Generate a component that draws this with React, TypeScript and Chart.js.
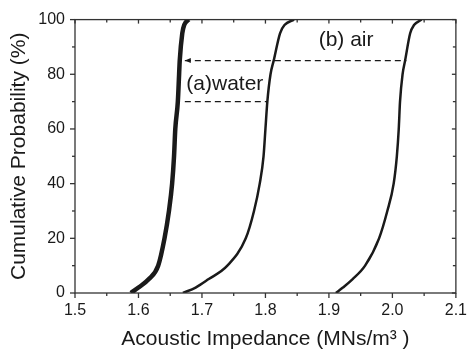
import React, { useEffect, useRef } from "react";
import { Chart, registerables } from "chart.js";
Chart.register(...registerables);

// Cumulative probability levels (%)
const probLevels = [0, 2, 5, 10, 20, 30, 40, 50, 60, 70, 80, 85, 95, 98, 100];
// Acoustic impedance values for each curve (MNs/m^3)
const curveWater = [1.588, 1.600, 1.616, 1.631, 1.641, 1.648, 1.653, 1.656, 1.658, 1.662, 1.664, 1.665, 1.669, 1.672, 1.679];
const curveMiddle = [1.670, 1.690, 1.710, 1.740, 1.769, 1.782, 1.791, 1.797, 1.800, 1.803, 1.808, 1.813, 1.823, 1.830, 1.845];
const curveAir = [1.911, 1.922, 1.937, 1.957, 1.979, 1.992, 2.002, 2.007, 2.010, 2.012, 2.016, 2.020, 2.028, 2.034, 2.046];

// Dashed guide lines
const guideAirX = [1.673, 2.022];
const guideAirY = [85, 85];
const guideWaterX = [1.673, 1.804];
const guideWaterY = [70, 70];

// Axis ticks
const xTicks = [1.5, 1.6, 1.7, 1.8, 1.9, 2.0, 2.1];
const xMinor = [1.55, 1.65, 1.75, 1.85, 1.95, 2.05];
const yTicks = [0, 20, 40, 60, 80, 100];
const yMinor = [10, 30, 50, 70, 90];

// Labels
const labelAir = { text: "(b) air", x: 1.927, y: 92.3 };
const labelWater = { text: "(a)water", x: 1.736, y: 76.3 };

const FONT = "'Liberation Sans', Arial, sans-serif";
const INK = "#1a1a1a";

function pts(xs: number[], ys: number[]) {
  return xs.map((x, i) => ({ x, y: ys[i] }));
}

const framePlugin = {
  id: "frame",
  afterDraw(chart: any) {
    const ctx = chart.ctx;
    const xs = chart.scales.x;
    const ys = chart.scales.y;
    const { left, right, top, bottom } = chart.chartArea;
    ctx.save();
    ctx.strokeStyle = "#333";
    ctx.lineWidth = 1.3;
    ctx.strokeRect(left, top, right - left, bottom - top);
    const tick = (x1: number, y1: number, x2: number, y2: number) => {
      ctx.beginPath();
      ctx.moveTo(x1, y1);
      ctx.lineTo(x2, y2);
      ctx.stroke();
    };
    xTicks.forEach((v) => {
      const p = xs.getPixelForValue(v);
      tick(p, bottom, p, bottom + 5);
      tick(p, top, p, top + 4);
    });
    xMinor.forEach((v) => {
      const p = xs.getPixelForValue(v);
      tick(p, bottom, p, bottom + 3);
      tick(p, top, p, top + 3);
    });
    yTicks.forEach((v) => {
      const p = ys.getPixelForValue(v);
      tick(left - 5, p, left, p);
      tick(right - 4, p, right, p);
    });
    yMinor.forEach((v) => {
      const p = ys.getPixelForValue(v);
      tick(left - 3, p, left, p);
      tick(right - 3, p, right, p);
    });
    // arrowhead on the 85% guide line (pointing left)
    const ax = xs.getPixelForValue(guideAirX[0]);
    const ay = ys.getPixelForValue(guideAirY[0]);
    ctx.fillStyle = INK;
    ctx.beginPath();
    ctx.moveTo(ax, ay);
    ctx.lineTo(ax + 6, ay - 2.5);
    ctx.lineTo(ax + 6, ay + 2.5);
    ctx.closePath();
    ctx.fill();
    // text labels
    ctx.font = `21px ${FONT}`;
    ctx.fillStyle = INK;
    ctx.textAlign = "center";
    ctx.textBaseline = "middle";
    [labelAir, labelWater].forEach((l) => {
      ctx.fillText(l.text, xs.getPixelForValue(l.x), ys.getPixelForValue(l.y));
    });
    ctx.restore();
  },
};

export default function App() {
  const ref = useRef<HTMLCanvasElement>(null);
  useEffect(() => {
    const canvas = ref.current!;
    const curve = (xs: number[], w: number) => ({
      data: pts(xs, probLevels),
      showLine: true,
      borderColor: INK,
      borderWidth: w,
      pointRadius: 0,
      cubicInterpolationMode: "monotone" as const,
    });
    const guide = (xs: number[], ys: number[]) => ({
      data: pts(xs, ys),
      showLine: true,
      borderColor: INK,
      borderWidth: 1.2,
      borderDash: [6, 4],
      pointRadius: 0,
    });
    const chart = new Chart(canvas, {
      type: "scatter",
      data: {
        datasets: [
          curve(curveWater, 4.5),
          curve(curveMiddle, 2.5),
          curve(curveAir, 2.5),
          guide(guideAirX, guideAirY),
          guide(guideWaterX, guideWaterY),
        ] as any,
      },
      options: {
        responsive: false,
        animation: false,
        layout: { autoPadding: false, padding: { top: 17, right: 11, left: 0, bottom: 0 } } as any,
        plugins: { legend: { display: false }, tooltip: { enabled: false } },
        scales: {
          x: {
            type: "linear",
            min: 1.5,
            max: 2.1,
            grid: { display: false, drawTicks: false },
            border: { display: false },
            afterBuildTicks: (s: any) => {
              s.ticks = xTicks.map((v) => ({ value: v }));
            },
            afterFit: (s: any) => {
              s.height = 61;
            },
            ticks: {
              padding: 8,
              color: INK,
              font: { family: FONT, size: 16 },
              maxRotation: 0,
              callback: (v: any) => Number(v).toFixed(1),
            },
            title: {
              display: true,
              text: "Acoustic Impedance (MNs/m³ )",
              color: INK,
              font: { family: FONT, size: 21 },
              padding: { top: 0, bottom: 2 },
            },
          },
          y: {
            type: "linear",
            min: 0,
            max: 100,
            grid: { display: false, drawTicks: false },
            border: { display: false },
            afterBuildTicks: (s: any) => {
              s.ticks = yTicks.map((v) => ({ value: v }));
            },
            afterFit: (s: any) => {
              s.width = 75;
            },
            ticks: {
              padding: 10,
              color: INK,
              font: { family: FONT, size: 16 },
            },
            title: {
              display: true,
              text: "Cumulative Probability (%)",
              color: INK,
              font: { family: FONT, size: 21 },
              padding: { top: 7, bottom: 0 },
            },
          },
        },
      },
      plugins: [framePlugin],
    });
    return () => chart.destroy();
  }, []);
  return (
    <div style={{ position: "absolute", left: 0, top: 0, width: 475, height: 354, background: "#fff" }}>
      <canvas ref={ref} width={475} height={354} />
    </div>
  );
}
